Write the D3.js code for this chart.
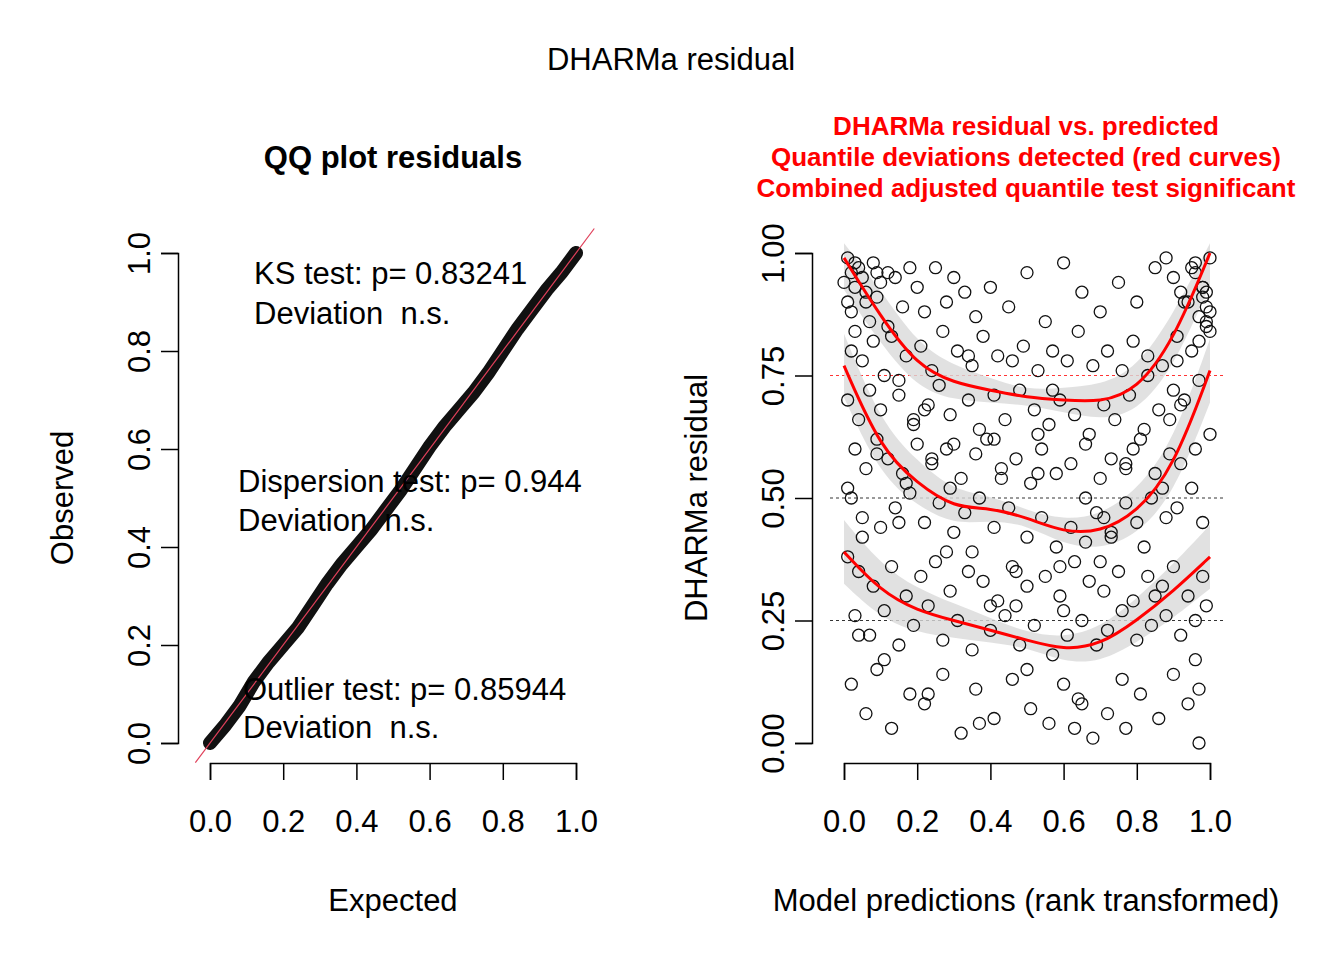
<!DOCTYPE html>
<html><head><meta charset="utf-8">
<script src="https://cdn.jsdelivr.net/npm/d3@7"></script>
<style>body{margin:0;background:#fff}text{font-family:Arial,"Liberation Sans",sans-serif;white-space:pre}</style>
</head><body>
<svg id="c" width="1344" height="960"></svg>
<script>
// QQ plot: expected vs observed quantiles
var qqExp = [0,0.04,0.08,0.12,0.16,0.2,0.24,0.28,0.32,0.36,0.4,0.44,0.48,0.52,0.56,0.6,0.64,0.68,0.72,0.76,0.8,0.84,0.88,0.92,0.96,1];
var qqObs = [0,0.035,0.075,0.125,0.165,0.2,0.235,0.28,0.325,0.365,0.4,0.435,0.475,0.515,0.56,0.605,0.645,0.68,0.715,0.755,0.8,0.845,0.885,0.925,0.96,1];
var qqTicks = [0,0.2,0.4,0.6,0.8,1];

// residual vs predicted scatter (read approximately)
var predX = [0.01,0.02,0.03,0.01,0.04,0.05,0.02,0.06,0.08,0.1,0.12,0.03,0.07,0.09,0.14,0.16,0.18,0.2,0.22,0.25,0.28,0.3,0.33,0.36,0.4,0.45,0.5,0.55,0.6,0.65,0.7,0.75,0.8,0.85,0.88,0.9,0.92,0.94,0.96,0.97,0.98,0.99,1.0,0.99,0.97,0.95,0.98,1.0,
 0.02,0.05,0.08,0.11,0.13,0.17,0.21,0.24,0.27,0.31,0.35,0.38,0.42,0.46,0.49,0.53,0.57,0.61,0.64,0.68,0.72,0.76,0.79,0.83,0.87,0.91,0.95,0.99,
 0.01,0.04,0.07,0.1,0.15,0.19,0.23,0.26,0.29,0.34,0.37,0.41,0.44,0.48,0.52,0.56,0.59,0.63,0.67,0.71,0.74,0.78,0.82,0.86,0.9,0.93,0.97,
 0.03,0.06,0.09,0.12,0.16,0.2,0.24,0.28,0.32,0.36,0.39,0.43,0.47,0.51,0.54,0.58,0.62,0.66,0.7,0.73,0.77,0.81,0.85,0.89,0.92,0.96,1.0,
 0.02,0.05,0.1,0.14,0.18,0.22,0.26,0.3,0.33,0.37,0.41,0.45,0.5,0.54,0.58,0.62,0.66,0.69,0.73,0.77,0.8,0.84,0.88,0.91,0.95,0.98,
 0.01,0.04,0.08,0.13,0.17,0.21,0.25,0.29,0.34,0.38,0.42,0.46,0.5,0.55,0.59,0.63,0.67,0.71,0.75,0.79,0.83,0.87,0.9,0.94,0.98,
 0.03,0.07,0.11,0.15,0.19,0.23,0.27,0.31,0.35,0.4,0.44,0.48,0.52,0.57,0.61,0.65,0.69,0.72,0.76,0.8,0.84,0.88,0.92,0.96,0.99,
 0.02,0.06,0.09,0.13,0.18,0.22,0.27,0.32,0.36,0.41,0.46,0.51,0.56,0.6,0.64,0.68,0.72,0.77,0.81,0.86,0.9,0.94,0.97,
 0.0,0.03,0.06,0.09,0.12,0.15,0.19,0.24,0.29,0.35,0.41,0.47,0.53,0.59,0.65,0.71,0.77,0.83,0.89,0.93,0.96,0.98,1.0,
 0.01,0.05,0.11,0.17,0.23,0.3,0.37,0.43,0.5,0.57,0.63,0.7,0.76,0.82,0.87,0.92,0.96,0.99,
 0.04,0.09,0.15,0.22,0.28,0.34,0.4,0.47,0.53,0.6,0.66,0.73,0.79,0.85,0.91,0.97];
var residY = [0.99,0.96,0.93,0.9,0.97,0.95,0.88,0.92,0.98,0.94,0.96,0.84,0.86,0.91,0.95,0.89,0.97,0.93,0.88,0.97,0.9,0.95,0.92,0.87,0.93,0.89,0.96,0.86,0.98,0.92,0.88,0.94,0.9,0.97,0.99,0.95,0.92,0.9,0.96,0.87,0.93,0.85,0.99,0.89,0.82,0.97,0.91,0.84,
 0.8,0.78,0.82,0.75,0.83,0.79,0.81,0.76,0.84,0.8,0.77,0.83,0.79,0.78,0.81,0.76,0.8,0.78,0.84,0.77,0.8,0.76,0.82,0.79,0.77,0.83,0.8,0.86,
 0.7,0.66,0.72,0.68,0.71,0.65,0.69,0.73,0.67,0.7,0.64,0.71,0.66,0.72,0.68,0.65,0.7,0.67,0.63,0.69,0.66,0.71,0.64,0.68,0.72,0.7,0.74,
 0.6,0.56,0.62,0.58,0.55,0.61,0.57,0.6,0.54,0.59,0.62,0.56,0.58,0.53,0.6,0.55,0.57,0.61,0.54,0.58,0.56,0.62,0.55,0.59,0.57,0.6,0.63,
 0.5,0.46,0.44,0.48,0.51,0.45,0.49,0.43,0.47,0.5,0.44,0.48,0.42,0.46,0.4,0.44,0.41,0.47,0.43,0.49,0.45,0.5,0.46,0.48,0.52,0.45,
 0.38,0.35,0.32,0.36,0.3,0.34,0.37,0.31,0.35,0.33,0.29,0.36,0.32,0.34,0.3,0.37,0.33,0.31,0.35,0.29,0.34,0.32,0.36,0.3,0.34,
 0.26,0.22,0.27,0.2,0.24,0.28,0.21,0.25,0.19,0.23,0.26,0.2,0.24,0.18,0.22,0.25,0.2,0.23,0.27,0.21,0.24,0.26,0.22,0.25,0.28,
 0.12,0.06,0.15,0.03,0.1,0.08,0.14,0.02,0.11,0.05,0.13,0.07,0.04,0.12,0.09,0.01,0.06,0.03,0.1,0.05,0.14,0.08,0.0,
 0.94,0.98,0.9,0.96,0.85,0.74,0.66,0.58,0.52,0.39,0.62,0.28,0.55,0.36,0.08,0.46,0.57,0.75,0.66,0.9,0.98,0.93,0.88,
 0.52,0.42,0.17,0.53,0.1,0.61,0.04,0.54,0.15,0.72,0.03,0.37,0.13,0.4,0.52,0.69,0.17,0.92,
 0.22,0.59,0.45,0.68,0.39,0.79,0.28,0.35,0.63,0.27,0.5,0.42,0.6,0.3,0.78,0.11];

// quantile regression curves
var qX = [0,0.1,0.2,0.3,0.4,0.5,0.6,0.7,0.8,0.9,1];
var q75 = [0.99,0.87,0.77,0.735,0.72,0.705,0.70,0.695,0.72,0.82,1.0];
var q50 = [0.77,0.6,0.53,0.48,0.48,0.46,0.43,0.43,0.47,0.56,0.76];
var q25 = [0.39,0.31,0.27,0.25,0.23,0.21,0.19,0.2,0.25,0.31,0.38];
var resTicks = [0,0.25,0.5,0.75,1];

var svg = d3.select("#c");
var F = 31;

svg.append("text").attr("x",671).attr("y",70).attr("text-anchor","middle").style("font-size","31px").text("DHARMa residual");

// ---- left panel
var x1 = d3.scaleLinear().domain([0,1]).range([210,576]);
var y1 = d3.scaleLinear().domain([0,1]).range([743,253]);
var g1 = svg.append("g");
g1.append("g").attr("transform","translate(0,763)").call(d3.axisBottom(x1).tickValues(qqTicks).tickFormat(d3.format(".1f")).tickSize(17).tickPadding(30));
var ay1 = g1.append("g").attr("transform","translate(178,0)").call(d3.axisLeft(y1).tickValues(qqTicks).tickFormat(d3.format(".1f")).tickSize(17).tickPadding(24));
g1.selectAll(".domain").attr("stroke-width",1.5);
g1.selectAll(".tick line").attr("stroke-width",1.5);
g1.selectAll(".tick text").style("font-size",F+"px").style("font-family","Arial,Liberation Sans");
ay1.selectAll(".tick text").attr("transform","rotate(-90)").attr("text-anchor","middle").attr("x",0).attr("y",-39).attr("dy","0.35em");

g1.append("path").datum(qqExp).attr("fill","none").attr("stroke","#111").attr("stroke-width",14).attr("stroke-linecap","round")
  .attr("d",d3.line().x(function(d){return x1(d);}).y(function(d,i){return y1(qqObs[i]);}));
g1.append("line").attr("x1",x1(-0.04)).attr("y1",y1(-0.04)).attr("x2",x1(1.05)).attr("y2",y1(1.05)).attr("stroke","#e0405a").attr("stroke-width",1.2);

g1.append("text").attr("x",393).attr("y",168).attr("text-anchor","middle").style("font-size","31px").style("font-weight","bold").text("QQ plot residuals");
g1.append("text").attr("x",393).attr("y",911).attr("text-anchor","middle").style("font-size",F+"px").text("Expected");
g1.append("text").attr("transform","translate(73,498) rotate(-90)").attr("text-anchor","middle").style("font-size",F+"px").text("Observed");
var notes = [["KS test: p= 0.83241",254,284],["Deviation  n.s.",254,324],["Dispersion test: p= 0.944",238,492],["Deviation  n.s.",238,531],["Outlier test: p= 0.85944",243,700],["Deviation  n.s.",243,738]];
g1.selectAll(".note").data(notes).enter().append("text").attr("x",function(d){return d[1];}).attr("y",function(d){return d[2];}).style("font-size",F+"px").text(function(d){return d[0];});

// ---- right panel
var x2 = d3.scaleLinear().domain([0,1]).range([844,1210]);
var y2 = d3.scaleLinear().domain([0,1]).range([743,253]);
var g2 = svg.append("g");
g2.selectAll(".hl").data([0.25,0.5,0.75]).enter().append("line")
  .attr("x1",830).attr("x2",1225).attr("y1",function(d){return y2(d);}).attr("y2",function(d){return y2(d);})
  .attr("stroke",function(d){return d==0.75?"red":"#000";}).attr("stroke-width",0.8).attr("stroke-dasharray","3,3");
[q25,q50,q75].forEach(function(q){
  g2.append("path").datum(qX).attr("fill","#d9d9d9").attr("opacity",0.8)
    .attr("d",d3.area().curve(d3.curveBasis).x(function(d){return x2(d);})
      .y0(function(d,i){var w=0.015+0.05*Math.abs(d-0.5)*2;return y2(q[i]-w);})
      .y1(function(d,i){var w=0.015+0.05*Math.abs(d-0.5)*2;return y2(Math.min(1.02,q[i]+w));}));
});
g2.selectAll(".pt").data(predX).enter().append("circle")
  .attr("cx",function(d){return x2(d);}).attr("cy",function(d,i){return y2(residY[i]);}).attr("r",6)
  .attr("fill","none").attr("stroke","#111").attr("stroke-width",1.3);
[q25,q50,q75].forEach(function(q){
  g2.append("path").datum(qX).attr("fill","none").attr("stroke","red").attr("stroke-width",3)
    .attr("d",d3.line().curve(d3.curveBasis).x(function(d){return x2(d);}).y(function(d,i){return y2(q[i]);}));
});
g2.append("g").attr("transform","translate(0,763)").call(d3.axisBottom(x2).tickValues(qqTicks).tickFormat(d3.format(".1f")).tickSize(17).tickPadding(30));
var ay2 = g2.append("g").attr("transform","translate(812,0)").call(d3.axisLeft(y2).tickValues(resTicks).tickFormat(d3.format(".2f")).tickSize(17).tickPadding(24));
g2.selectAll(".domain,.tick line").attr("stroke-width",1.5);
g2.selectAll(".tick text").style("font-size",F+"px").style("font-family","Arial,Liberation Sans");
ay2.selectAll(".tick text").attr("transform","rotate(-90)").attr("text-anchor","middle").attr("x",0).attr("y",-39).attr("dy","0.35em");

var rt = ["DHARMa residual vs. predicted","Quantile deviations detected (red curves)","Combined adjusted quantile test significant"];
g2.selectAll(".rt").data(rt).enter().append("text").attr("x",1026).attr("y",function(d,i){return 135+i*31;})
  .attr("text-anchor","middle").attr("fill","red").style("font-size","26px").style("font-weight","bold").text(function(d){return d;});
g2.append("text").attr("x",1026).attr("y",911).attr("text-anchor","middle").style("font-size",F+"px").text("Model predictions (rank transformed)");
g2.append("text").attr("transform","translate(707,498) rotate(-90)").attr("text-anchor","middle").style("font-size",F+"px").text("DHARMa residual");
</script>
</body></html>
